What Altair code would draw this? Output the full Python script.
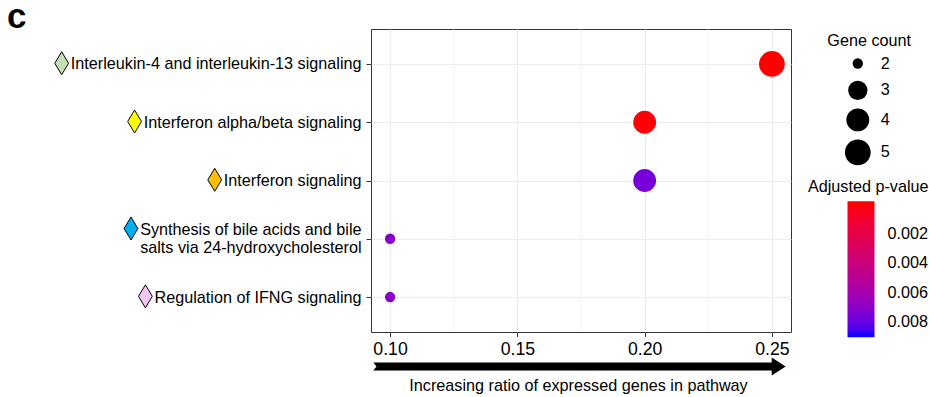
import altair as alt
import pandas as pd

# ---------------- data ----------------
pathways = [
    "Interleukin-4 and interleukin-13 signaling",
    "Interferon alpha/beta signaling",
    "Interferon signaling",
    "Synthesis of bile acids and bile\nsalts via 24-hydroxycholesterol",
    "Regulation of IFNG signaling",
]
gene_ratio = [0.25, 0.20, 0.20, 0.10, 0.10]
gene_count = [5, 4, 4, 2, 2]
p_adjust = [0.00001, 0.00008, 0.0076, 0.0070, 0.0070]
marker_colors = ["#C5E0B4", "#FFFF00", "#FFC000", "#00B0F0", "#F4C6F4"]

x_ticks = [0.10, 0.15, 0.20, 0.25]
x_minor = [0.125, 0.175, 0.225]
size_breaks = [2, 3, 4, 5]
p_breaks = [0.002, 0.004, 0.006, 0.008]
panel_tag = "c"

# ---------------- geometry / style ----------------
W, H = 420, 303
PAD = {"left": 371, "top": 29, "right": 138, "bottom": 65}
FONT = "Liberation Sans"
LABEL_FS = 16.2
Y_TICK = 5
Y_LABEL_PAD = 5
LINE_H = 17.6

# Arial / Liberation Sans advance widths (per 1000 em)
ARIAL = {
    " ": 278, "-": 333, "/": 278, ".": 278,
    "A": 667, "B": 667, "C": 722, "D": 722, "E": 667, "F": 611, "G": 778,
    "H": 722, "I": 278, "J": 500, "K": 667, "L": 556, "M": 833, "N": 722,
    "O": 778, "P": 667, "Q": 778, "R": 722, "S": 667, "T": 611, "U": 722,
    "V": 667, "W": 944, "X": 667, "Y": 667, "Z": 611,
    "a": 556, "b": 556, "c": 500, "d": 556, "e": 556, "f": 278, "g": 556,
    "h": 556, "i": 222, "j": 222, "k": 500, "l": 222, "m": 833, "n": 556,
    "o": 556, "p": 556, "q": 556, "r": 333, "s": 500, "t": 278, "u": 556,
    "v": 500, "w": 722, "x": 500, "y": 500, "z": 500,
}


def text_width(s, size):
    return sum(ARIAL.get(ch, 556) for ch in s) * size / 1000.0


df = pd.DataFrame({
    "idx": list(range(len(pathways))),
    "pathway": pathways,
    "ratio": gene_ratio,
    "count": gene_count,
    "padj": p_adjust,
    "mcol": marker_colors,
})

x_scale = alt.Scale(domain=[0.0925, 0.2575], nice=False, zero=False)

y_enc = alt.Y(
    "pathway:N",
    sort=None,
    title=None,
    scale=alt.Scale(type="point", padding=0.6, domain=pathways),
    axis=alt.Axis(
        labelExpr="split(datum.label, '\\n')",
        labelFontSize=LABEL_FS,
        labelColor="black",
        labelLimit=500,
        labelPadding=Y_LABEL_PAD,
        labelLineHeight=LINE_H,
        labelOffset=alt.condition(
            "indexof(datum.value, '\\n') >= 0", alt.value(-LINE_H / 2), alt.value(0)
        ),
        tickSize=Y_TICK,
        tickColor="#333333",
        tickWidth=1,
        domain=False,
        grid=True,
        gridColor="#EBEBEB",
        gridWidth=1.1,
    ),
)

x_axis = alt.Axis(
    values=x_ticks,
    format=".2f",
    labelFontSize=17.7,
    labelColor="black",
    labelPadding=3.9,
    labelFlush=False,
    tickSize=4.5,
    tickColor="#333333",
    tickWidth=1,
    domain=False,
    grid=True,
    gridColor="#EBEBEB",
    gridWidth=1.1,
    title="Increasing ratio of expressed genes in pathway",
    titleFontSize=LABEL_FS,
    titleFontWeight="normal",
    titleColor="black",
    titleBaseline="alphabetic",
    titleY=58,
    titleX=W / 2 - 3,
)

minor = alt.Chart(pd.DataFrame({"ratio": x_minor})).mark_rule(
    color="#EBEBEB", strokeWidth=0.6
).encode(x=alt.X("ratio:Q", scale=x_scale, axis=x_axis))

points = alt.Chart(df).transform_calculate(
    negp="-datum.padj"
).mark_circle(opacity=1, strokeWidth=0).encode(
    x=alt.X("ratio:Q", scale=x_scale, axis=x_axis),
    y=y_enc,
    size=alt.Size(
        "count:Q",
        scale=alt.Scale(domain=size_breaks, range=[107, 370, 523, 660]),
        legend=alt.Legend(
            title="Gene count",
            orient="none",
            legendX=456.3,
            legendY=3.6,
            values=size_breaks,
            format="d",
            symbolType="circle",
            symbolFillColor="black",
            symbolStrokeWidth=0,
            symbolOpacity=1,
            symbolOffset=17.5,
            labelOffset=10,
            rowPadding=8,
            titlePadding=6.6,
            padding=0,
            labelFontSize=LABEL_FS,
            labelColor="black",
            titleFontSize=LABEL_FS,
            titleFontWeight="normal",
            titleColor="black",
        ),
    ),
    color=alt.Color(
        "negp:Q",
        scale=alt.Scale(domain=[-0.009, 0, 0.0002], range=["blue", "red", "red"],
                        interpolate="lab", nice=False, zero=False),
        legend=alt.Legend(
            title="Adjusted p-value",
            type="gradient",
            orient="none",
            direction="vertical",
            legendX=436.5,
            legendY=149.8,
            gradientLength=136,
            gradientThickness=27,
            gradientStrokeWidth=0,
            values=[-v for v in p_breaks],
            labelExpr="format(-datum.value, '.3f')",
            labelOffset=13,
            titlePadding=6.2,
            titleAlign="right",
            titleAnchor="end",
            padding=0,
            labelFontSize=LABEL_FS,
            labelColor="black",
            titleFontSize=LABEL_FS,
            titleFontWeight="normal",
            titleColor="black",
        ),
    ),
)

# diamond markers in front of the pathway labels (placed from the label width)
DIAMOND = "M0,-1L0.6,0L0,1L-0.6,0Z"
diamond_layers = []
for i, name in enumerate(pathways):
    lines = name.split("\n")
    mx = -(Y_TICK + Y_LABEL_PAD + text_width(lines[0], LABEL_FS) + 8.5)
    dy = -0.7 - (len(lines) - 1) * 9.6
    diamond_layers.append(
        alt.Chart(df)
        .transform_filter(alt.datum.idx == i)
        .mark_point(shape=DIAMOND, size=529, filled=True, stroke="black",
                    strokeWidth=1, opacity=1, yOffset=dy)
        .encode(
            x=alt.value(mx),
            y=y_enc,
            fill=alt.Fill("mcol:N", scale=None),
        )
    )

ARROW_LEN = 412.4
u = 2.0 / ARROW_LEN
ARROW = (
    f"M-1,{-4*u:.5f}L{1-14*u:.5f},{-4*u:.5f}L{1-14*u:.5f},{-9*u:.5f}L1,0"
    f"L{1-14*u:.5f},{9*u:.5f}L{1-14*u:.5f},{4*u:.5f}L-1,{4*u:.5f}L{-1+3.2*u:.5f},0Z"
)
arrow = alt.Chart(pd.DataFrame({"k": [0]})).mark_point(
    shape=ARROW, size=ARROW_LEN ** 2, filled=True, color="black",
    opacity=1, strokeWidth=0,
).encode(x=alt.value(W / 2 - 1.5), y=alt.value(H + 34.5))

tag = alt.Chart(pd.DataFrame({"t": [panel_tag]})).mark_text(
    align="left", baseline="alphabetic", fontSize=35, fontWeight="bold",
    color="black", font=FONT,
).encode(text="t:N", x=alt.value(-363.9), y=alt.value(-0.7))

chart = (
    alt.layer(minor, points, *diamond_layers, arrow, tag)
    .properties(
        width=W,
        height=H,
        autosize=alt.AutoSizeParams(type="none"),
        padding=PAD,
    )
    .configure(font=FONT, background="white")
    .configure_view(stroke="#333333", strokeWidth=1)
)

chart.save("out.html", embed_options={"renderer": "svg", "actions": False})
